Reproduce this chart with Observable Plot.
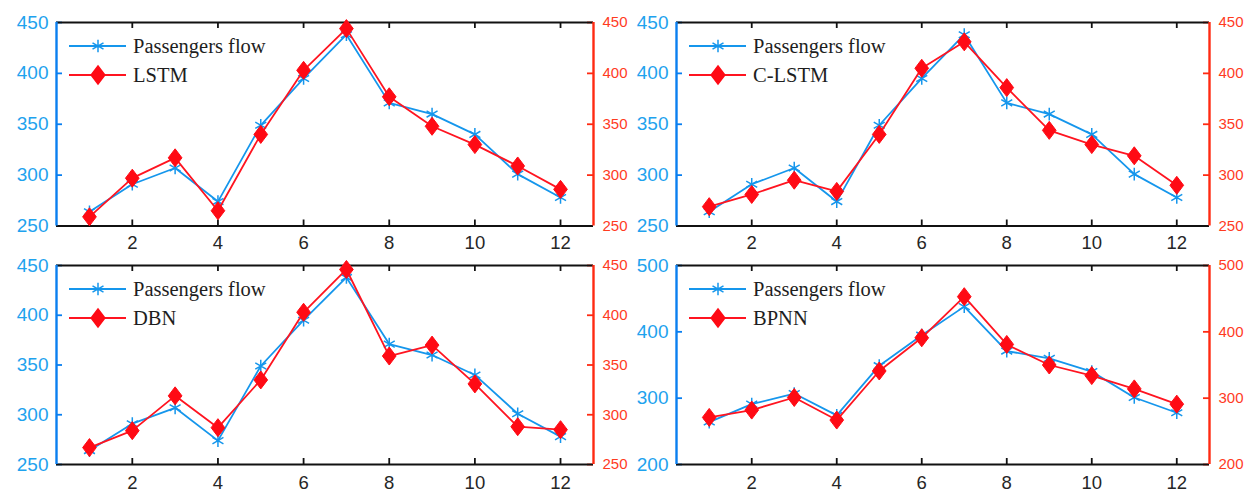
<!DOCTYPE html>
<html><head><meta charset="utf-8">
<script src="https://cdn.jsdelivr.net/npm/d3@7"></script>
<script src="https://cdn.jsdelivr.net/npm/@observablehq/plot@0.6"></script>
<style>
body{margin:0;background:#fff;}
#wrap{position:relative;width:1251px;height:496px;overflow:hidden;background:#fff;}
.panel{position:absolute;}
.legend{position:absolute;font-family:"Liberation Serif","Times New Roman",serif;font-size:20.5px;color:#1e1e1e;}
.row{position:absolute;left:0;height:26px;display:flex;align-items:center;white-space:nowrap;}
.row svg{display:block;margin-right:7px;overflow:visible;}
</style></head><body><div id="wrap"></div>
<script>
// ---- data ----
const months = [1,2,3,4,5,6,7,8,9,10,11,12];
const xTicks = [2,4,6,8,10,12];
const passengers = [264,291,307,274,349,395,438,371,360,340,301,278];
const lstm  = [259,297,317,265,340,403,444,377,348,330,309,286];
const clstm = [269,281,295,284,340,405,431,386,344,330,319,290];
const dbn   = [267,284,319,287,335,403,446,359,370,331,288,285];
const bpnn  = [271,282,301,267,341,391,453,381,350,334,314,291];
const yTicksA = [250,300,350,400,450];
const yTicksB = [200,300,400,500];
const seriesNames = ["Passengers flow","LSTM","C-LSTM","DBN","BPNN"];

// ---- style ----
const BLUE_LINE = "#1596ec", BLUE_AXIS = "#0a7ff0", BLUE_TEXT = "#1ea2ee";
const RED_LINE = "#ff1420", RED_AXIS = "#ff2a12", RED_TEXT = "#ff3b1f";
const SANS = "Liberation Sans, Arial, sans-serif";
const xDomain = [0.23, 12.77];

const diamondSym = {
  draw(ctx, size) {
    const r = Math.sqrt(size / Math.PI);
    ctx.moveTo(0, -r); ctx.lineTo(0.76 * r, 0); ctx.lineTo(0, r); ctx.lineTo(-0.76 * r, 0); ctx.closePath();
  }
};
const STAR_R = 6, DIA_R = 9;

const panels = [
  {name: seriesNames[1], pred: lstm,  yDomain: [250,450], yTicks: yTicksA, left: 0,   top: 0,   width: 625, height: 248, ml: 56, mr: 32, mt: 22, mb: 22.5, pad: 10},
  {name: seriesNames[2], pred: clstm, yDomain: [250,450], yTicks: yTicksA, left: 625, top: 0,   width: 626, height: 248, ml: 51, mr: 42, mt: 22, mb: 22.5, pad: 10},
  {name: seriesNames[3], pred: dbn,   yDomain: [250,450], yTicks: yTicksA, left: 0,   top: 248, width: 625, height: 248, ml: 56, mr: 32, mt: 17, mb: 32, pad: 11},
  {name: seriesNames[4], pred: bpnn,  yDomain: [200,500], yTicks: yTicksB, left: 625, top: 248, width: 626, height: 248, ml: 51, mr: 42, mt: 17, mb: 32, pad: 11}
];

const wrap = document.getElementById("wrap");

for (const p of panels) {
  const rows = months.map((m, i) => ({month: m, actual: passengers[i], pred: p.pred[i]}));
  const fw = p.width - p.ml - p.mr, fh = p.height - p.mt - p.mb;
  const chart = Plot.plot({
    width: p.width, height: p.height,
    marginLeft: p.ml, marginRight: p.mr, marginTop: p.mt, marginBottom: p.mb,
    x: {domain: xDomain, type: "linear"},
    y: {domain: p.yDomain, type: "linear"},
    style: {overflow: "visible", background: "transparent", fontFamily: SANS},
    marks: [
      // inward ticks
      Plot.tickX(xTicks, {x: d => d, insetTop: fh - 6, stroke: "#111", strokeWidth: 1.8}),
      Plot.tickX(xTicks, {x: d => d, insetBottom: fh - 6, stroke: "#111", strokeWidth: 1.8}),
      Plot.tickY(p.yTicks, {y: d => d, insetRight: fw - 6, stroke: BLUE_AXIS, strokeWidth: 1.8}),
      Plot.tickY(p.yTicks, {y: d => d, insetLeft: fw - 6, stroke: RED_AXIS, strokeWidth: 1.8}),
      // box
      Plot.ruleY([p.yDomain[1]], {stroke: "#111", strokeWidth: 2.2}),
      Plot.ruleY([p.yDomain[0]], {stroke: "#111", strokeWidth: 2.2}),
      Plot.ruleX([xDomain[0]], {stroke: BLUE_AXIS, strokeWidth: 2.4}),
      Plot.ruleX([xDomain[1]], {stroke: RED_AXIS, strokeWidth: 2.4}),
      // axis labels
      Plot.axisX({ticks: xTicks, tickSize: 0, tickPadding: p.pad, fontSize: 18.5, color: "#262626", label: null, fontFamily: SANS}),
      Plot.axisY({anchor: "left", ticks: p.yTicks, tickSize: 0, tickPadding: 8, fontSize: 19, color: BLUE_TEXT, label: null, fontFamily: SANS}),
      Plot.axisY({anchor: "right", ticks: p.yTicks, tickSize: 0, tickPadding: 9, fontSize: 15, color: RED_TEXT, label: null, fontFamily: SANS}),
      // data
      Plot.line(rows, {x: "month", y: "actual", stroke: BLUE_LINE, strokeWidth: 1.8}),
      Plot.dot(rows, {x: "month", y: "actual", symbol: "asterisk", r: STAR_R, stroke: BLUE_LINE, strokeWidth: 1.5}),
      Plot.line(rows, {x: "month", y: "pred", stroke: RED_LINE, strokeWidth: 1.8}),
      Plot.dot(rows, {x: "month", y: "pred", symbol: diamondSym, r: DIA_R, fill: "#ff0a14", stroke: "#ff0a14", strokeWidth: 1})
    ]
  });
  const holder = document.createElement("div");
  holder.className = "panel";
  holder.style.left = p.left + "px";
  holder.style.top = p.top + "px";
  holder.appendChild(chart);
  wrap.appendChild(holder);

  // legend (box off, top-left inside the frame)
  const lg = document.createElement("div");
  lg.className = "legend";
  lg.style.left = (p.left + p.ml + 13) + "px";
  lg.style.top = (p.top + p.mt) + "px";
  const items = [
    {label: seriesNames[0], color: BLUE_LINE, sym: d3.symbolAsterisk, r: STAR_R, filled: false},
    {label: p.name, color: RED_LINE, sym: diamondSym, r: DIA_R, filled: true}
  ];
  items.forEach((it, k) => {
    const row = document.createElement("div");
    row.className = "row";
    row.style.top = (k === 0 ? 11 : 40) + "px";
    const path = d3.symbol(it.sym, it.r * it.r * Math.PI)();
    row.innerHTML = `<svg width="57" height="26"><line x1="0" x2="57" y1="13" y2="13" stroke="${it.color}" stroke-width="1.8"/>` +
      `<path transform="translate(29,13)" d="${path}" fill="${it.filled ? "#ff0a14" : "none"}" stroke="${it.filled ? "#ff0a14" : it.color}" stroke-width="1.5"/></svg>` +
      `<span>${it.label}</span>`;
    lg.appendChild(row);
  });
  wrap.appendChild(lg);
}
</script></body></html>
